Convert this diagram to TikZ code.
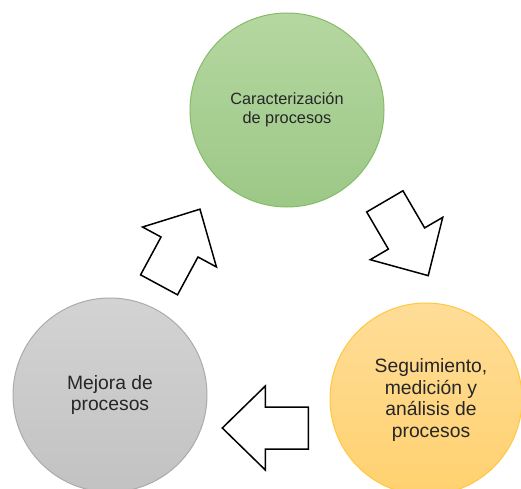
\documentclass[tikz,border=0pt]{standalone}
\usepackage{fontspec}
\setmainfont{Liberation Sans}
\usetikzlibrary{positioning}

\definecolor{verdeA}{HTML}{B5D7A1}
\definecolor{verdeB}{HTML}{9CC886}
\definecolor{verdeL}{HTML}{86BB68}
\definecolor{oroA}{HTML}{FFDD98}
\definecolor{oroB}{HTML}{FFD16F}
\definecolor{oroL}{HTML}{FFC83D}
\definecolor{grisA}{HTML}{D3D3D3}
\definecolor{grisB}{HTML}{C2C2C2}
\definecolor{grisL}{HTML}{ABABAB}

% block arrow: centre x, centre y, angle
\newcommand{\flecha}[3]{
	\draw[line width=1.5pt, fill=white, line join=miter, shift={(#1,#2)}, rotate=#3]
		(-43,-21) -- (0,-21) -- (0,-42) -- (43,0) -- (0,42) -- (0,21) -- (-43,21) -- cycle;
}

\begin{document}
\begin{tikzpicture}[x=1pt, y=1pt,
	etapa/.style={circle, draw, line width=1pt, minimum size=194pt, inner sep=0pt, align=center, text=black!85}]

\useasboundingbox (0,0) rectangle (521,488);
\clip (0,0) rectangle (521,488);

% CARACTERIZACION
\node[etapa, draw=verdeL, top color=verdeA, bottom color=verdeB,
	font=\fontsize{16.3}{19}\selectfont] (carac) at (287,378) {Caracterización\\de procesos};

% SEGUIMIENTO
\node[etapa, draw=oroL, top color=oroA, bottom color=oroB, minimum size=192pt,
	font=\fontsize{19.3}{21.7}\selectfont] (segui) at (426,89) {};
\node[font=\fontsize{19.3}{21.7}\selectfont, align=center, text=black!85] (seguitxt) at (431,88) {Seguimiento,\\medición y\\análisis de\\procesos};

% MEJORA
\node[etapa, draw=grisL, top color=grisA, bottom color=grisB,
	font=\fontsize{19.3}{21.7}\selectfont] (mejora) at (110,93) {Mejora de\\procesos};

% FLECHAS
\flecha{179.5}{241}{61.6}
\flecha{406.5}{249.5}{-59.7}
\flecha{265.3}{60}{180}

\end{tikzpicture}
\end{document}
